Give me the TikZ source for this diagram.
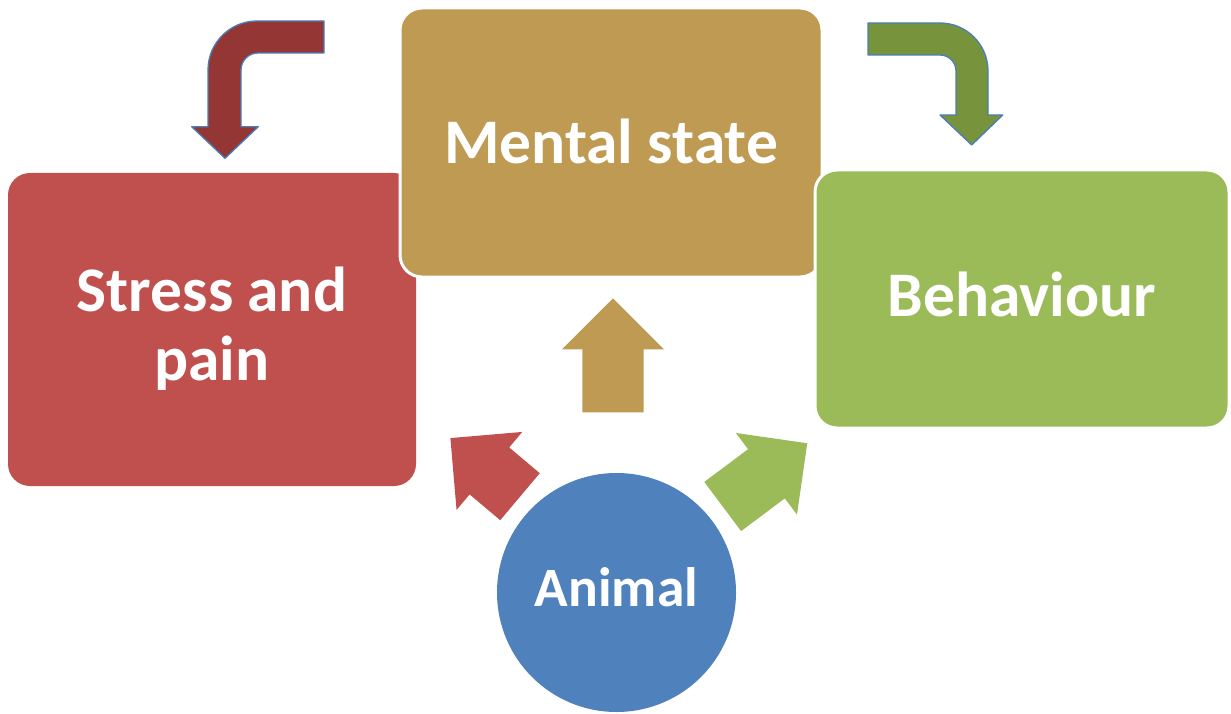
\documentclass[tikz,border=0pt]{standalone}
\usepackage{fontspec}
\setmainfont{Carlito}
\definecolor{cred}{HTML}{C0504D}
\definecolor{ctan}{HTML}{BE9A52}
\definecolor{cgreen}{HTML}{9BBB59}
\definecolor{cblue}{HTML}{4F81BD}
\definecolor{dred}{HTML}{943634}
\definecolor{dgreen}{HTML}{77933C}
\definecolor{outl}{HTML}{4A7EBB}
\newcommand\blockarrow[5]{%
  \begin{scope}[shift={(#1,#2)}, x=1pt, y=1pt, rotate=#3]
    \fill[#5] (0,-30.7) -- (#4-51,-30.7) -- (#4-51,-51) -- (#4,0) -- (#4-51,51) -- (#4-51,30.7) -- (0,30.7) -- cycle;
  \end{scope}}
\begin{document}
\begin{tikzpicture}[x=1pt,y=-1pt,
  box/.style={rectangle, rounded corners=22pt, text=white, align=center, inner sep=0pt,
    font=\fontsize{63.5}{68.3}\selectfont\bfseries, text depth=0pt},
  bent/.style={draw=outl, line width=1.3pt, line join=round}]
\useasboundingbox (0,0) rectangle (1231,714);
\node[box, fill=cred, minimum width=408pt, minimum height=313pt, text height=101pt] (stress) at (212,329.5) {Stress and\\pain};
\node[box, fill=ctan, draw=white, line width=3pt, minimum width=422pt, minimum height=269pt, text height=41.6pt] (mental) at (611,142.5) {Mental state};
\node[box, fill=cgreen, draw=white, line width=3pt, minimum width=414pt, minimum height=258pt, text height=35.4pt] (behav) at (1022,299) {Behaviour};
\node[circle, fill=cblue, minimum size=239pt, inner sep=0pt, text=white, text height=28.4pt, text depth=0pt,
  font=\fontsize{55.5}{66}\selectfont\bfseries] (animal) at (616.5,592.5) {Animal};
% block arrows from animal
\blockarrow{613}{412.3}{90}{114}{ctan}
\blockarrow{520}{496.7}{139.9}{91}{cred}
\blockarrow{722.7}{506.5}{36.8}{105.6}{cgreen}
% bent arrows
\draw[bent, fill=dred] (324,21) -- (257,21) arc[start angle=90, end angle=180, radius=49pt]
  -- (208,126.7) -- (191.7,126.7) -- (225,158.3) -- (258.3,126.7) -- (241,126.7) -- (241,70)
  arc[start angle=180, end angle=90, radius=17pt] -- (324,53) -- cycle;
\draw[bent, fill=dgreen] (868,23) -- (940,23) arc[start angle=90, end angle=0, radius=48pt]
  -- (988,115) -- (1002.7,115) -- (971.7,145) -- (940,115) -- (956,115) -- (956,71)
  arc[start angle=0, end angle=90, radius=16pt] -- (868,55) -- cycle;
\end{tikzpicture}
\end{document}
